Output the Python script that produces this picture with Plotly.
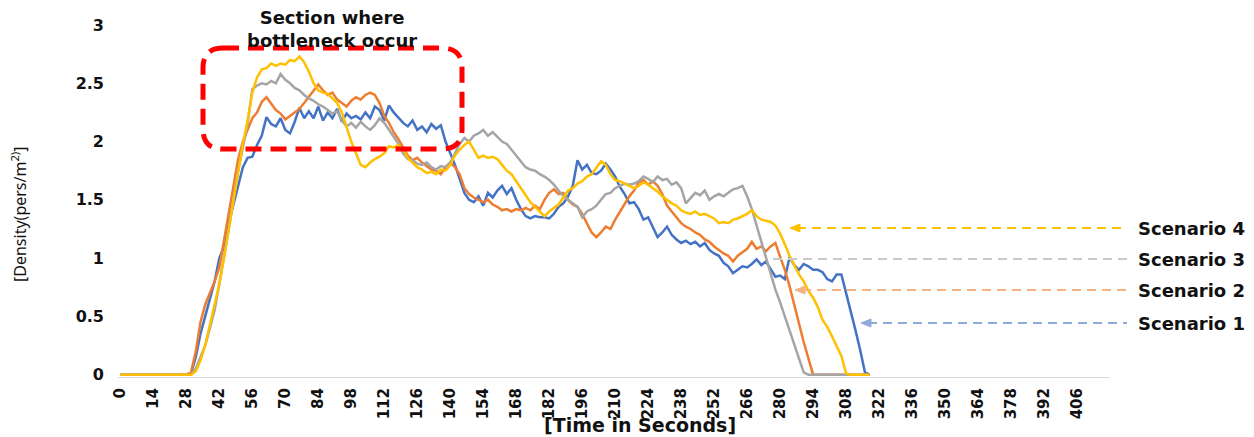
import plotly.graph_objects as go

# ---------------- data ----------------
time_s = list(range(0, 320, 2))  # seconds, one value every 2 s

scenario1 = [
    0, 0, 0, 0, 0, 0, 0, 0, 0, 0,
    0, 0, 0, 0, 0, 0.01, 0.15, 0.35, 0.5, 0.65,
    0.8, 1.0, 1.1, 1.3, 1.45, 1.62, 1.78, 1.86, 1.87, 1.97,
    2.05, 2.21, 2.15, 2.13, 2.2, 2.1, 2.07, 2.17, 2.29, 2.2,
    2.26, 2.2, 2.3, 2.18, 2.25, 2.2, 2.28, 2.17, 2.24, 2.2,
    2.22, 2.19, 2.25, 2.2, 2.3, 2.27, 2.18, 2.31, 2.25, 2.2,
    2.16, 2.13, 2.18, 2.1, 2.13, 2.08, 2.15, 2.11, 2.14, 2.0,
    1.9, 1.8, 1.68, 1.56, 1.5, 1.48, 1.53, 1.45, 1.56, 1.52,
    1.58, 1.62, 1.55, 1.6, 1.5, 1.42, 1.36, 1.34, 1.36, 1.35,
    1.35, 1.34, 1.38, 1.44, 1.47, 1.53, 1.62, 1.84, 1.76, 1.8,
    1.73, 1.72, 1.75, 1.81, 1.76, 1.7, 1.61, 1.55, 1.47, 1.48,
    1.42, 1.33, 1.35, 1.26, 1.18, 1.22, 1.27, 1.2, 1.16, 1.13,
    1.15, 1.12, 1.14, 1.1, 1.13, 1.07, 1.04, 1.02, 0.96, 0.93,
    0.87, 0.9, 0.93, 0.92, 0.95, 0.99, 0.94, 0.97, 0.9, 0.84,
    0.85, 0.82, 1.01, 0.94, 0.9, 0.95, 0.93, 0.9, 0.9, 0.88,
    0.82, 0.8, 0.86, 0.86, 0.7, 0.55, 0.38, 0.21, 0.02, 0,
]

scenario2 = [
    0, 0, 0, 0, 0, 0, 0, 0, 0, 0,
    0, 0, 0, 0, 0, 0.02, 0.2, 0.45, 0.6, 0.7,
    0.8, 0.92, 1.15, 1.4, 1.62, 1.85, 2.0, 2.1, 2.2, 2.25,
    2.34, 2.38, 2.33, 2.27, 2.24, 2.19, 2.22, 2.25, 2.28, 2.33,
    2.38, 2.43, 2.49, 2.44, 2.4, 2.42, 2.36, 2.33, 2.3, 2.35,
    2.38, 2.36, 2.4, 2.42, 2.4, 2.33, 2.22, 2.16, 2.08, 2.02,
    1.95, 1.88, 1.84, 1.86, 1.82, 1.79, 1.76, 1.75, 1.72, 1.78,
    1.82, 1.78, 1.72, 1.6, 1.55, 1.52, 1.5, 1.48, 1.5, 1.46,
    1.44, 1.41, 1.42, 1.4, 1.42, 1.41, 1.43, 1.41, 1.45, 1.42,
    1.5, 1.56, 1.59, 1.55, 1.56, 1.5, 1.46, 1.44, 1.38, 1.3,
    1.22, 1.18, 1.22, 1.27, 1.25, 1.33, 1.4, 1.46, 1.53, 1.58,
    1.65, 1.67, 1.63, 1.66, 1.62, 1.55, 1.45, 1.4, 1.35, 1.3,
    1.27, 1.25, 1.22, 1.2, 1.16, 1.14, 1.1, 1.07, 1.04, 1.02,
    0.97, 1.02, 1.05, 1.08, 1.14, 1.08, 1.1, 1.06, 1.1, 1.13,
    1.01, 0.9, 0.76, 0.6, 0.42, 0.28, 0.14, 0, 0, 0,
    0, 0, 0, 0, 0, 0, 0, 0, 0, 0,
]

scenario3 = [
    0, 0, 0, 0, 0, 0, 0, 0, 0, 0,
    0, 0, 0, 0, 0, 0, 0.05, 0.15, 0.25, 0.4,
    0.55, 0.78, 1.0, 1.25, 1.5, 1.75, 1.95, 2.15, 2.45, 2.48,
    2.5, 2.49, 2.52, 2.5, 2.58, 2.53, 2.5, 2.46, 2.44, 2.4,
    2.37, 2.35, 2.32, 2.3, 2.27, 2.24, 2.26, 2.18, 2.13, 2.16,
    2.12, 2.17, 2.13, 2.1, 2.14, 2.2, 2.16, 2.1, 2.05, 1.98,
    1.9, 1.85, 1.84, 1.81, 1.8, 1.82, 1.78, 1.76, 1.79, 1.78,
    1.82, 1.9, 1.98, 2.03, 2.0, 2.05, 2.07, 2.1, 2.05, 2.08,
    2.04, 2.0, 1.98, 1.93, 1.88, 1.84, 1.78, 1.76, 1.75, 1.72,
    1.7, 1.67, 1.63, 1.58, 1.53, 1.5, 1.47, 1.44, 1.35, 1.4,
    1.42, 1.45, 1.5, 1.55, 1.56, 1.6, 1.62, 1.64, 1.63, 1.64,
    1.66, 1.7, 1.68, 1.65, 1.7, 1.67, 1.68, 1.63, 1.65, 1.6,
    1.47, 1.52, 1.56, 1.54, 1.58, 1.5, 1.53, 1.55, 1.53, 1.56,
    1.59, 1.6, 1.62, 1.53, 1.42, 1.28, 1.14, 1.01, 0.86, 0.73,
    0.62, 0.5, 0.4, 0.27, 0.15, 0.02, 0, 0, 0, 0,
    0, 0, 0, 0, 0, 0, 0, 0, 0, 0,
]

scenario4 = [
    0, 0, 0, 0, 0, 0, 0, 0, 0, 0,
    0, 0, 0, 0, 0, 0, 0.03, 0.12, 0.25, 0.42,
    0.6, 0.78, 1.0, 1.25, 1.5, 1.75, 1.98, 2.18, 2.42, 2.55,
    2.62, 2.63, 2.67, 2.65, 2.67, 2.66, 2.7, 2.69, 2.73, 2.68,
    2.6, 2.5, 2.44, 2.42, 2.41, 2.37, 2.33, 2.25, 2.12, 2.0,
    1.9, 1.8, 1.78, 1.82, 1.85, 1.87, 1.9, 1.96, 1.95, 1.97,
    1.93, 1.86, 1.82, 1.78, 1.76, 1.73, 1.74, 1.72, 1.76, 1.75,
    1.8, 1.88, 1.93, 1.97, 2.0, 1.93, 1.86, 1.88, 1.86, 1.87,
    1.85, 1.8, 1.75, 1.72, 1.66, 1.6, 1.55, 1.48, 1.44, 1.4,
    1.36, 1.4, 1.43, 1.46, 1.52, 1.58, 1.6, 1.64, 1.66, 1.7,
    1.72, 1.77, 1.83, 1.8, 1.72, 1.67, 1.66, 1.64, 1.62, 1.6,
    1.62, 1.65, 1.63, 1.6, 1.57, 1.53, 1.5, 1.47, 1.45, 1.41,
    1.39, 1.38, 1.4, 1.37, 1.38, 1.36, 1.34, 1.3, 1.31, 1.3,
    1.33, 1.34, 1.36, 1.38, 1.41, 1.36, 1.33, 1.32, 1.31, 1.28,
    1.21, 1.12, 1.02, 0.94, 0.86, 0.8, 0.72, 0.66, 0.58, 0.47,
    0.41, 0.33, 0.25, 0.16, 0.01, 0, 0, 0, 0, 0,
]

series_names = ["Scenario 1", "Scenario 2", "Scenario 3", "Scenario 4"]
series_values = [scenario1, scenario2, scenario3, scenario4]
line_colors = ["#4472C4", "#ED7D31", "#A5A5A5", "#FFC000"]
label_colors = ["#8FAADC", "#F4B183", "#C9C9C9", "#FFC000"]

x_tick_vals = list(range(0, 407, 14))
y_tick_vals = [0, 0.5, 1, 1.5, 2, 2.5, 3]
y_tick_text = ["0", "0.5", "1", "1.5", "2", "2.5", "3"]

# ---------------- layout geometry (pixels) ----------------
W, H = 1254, 437
ML, MR, MT, MB = 104, 144, 25, 60
PW, PH = W - ML - MR, H - MT - MB
PLOT_LEFT = 118  # left edge of the plotting area (pixels)


def px(xp):
    return (xp - ML) / PW


def py(yp):
    return (H - MB - yp) / PH


FONT = "DejaVu Sans"

fig = go.Figure()
for name, vals, col in zip(series_names, series_values, line_colors):
    fig.add_trace(go.Scatter(
        x=time_s, y=vals, mode="lines", name=name,
        line=dict(color=col, width=2.5), showlegend=False,
    ))

shapes = []
annotations = []

# red dashed rounded rectangle (bottleneck section)
L, R, T, B, r = 203, 462, 48, 149, 20
x0, x1 = px(L), px(R)
y0, y1 = py(B), py(T)
rx, ry = r / PW, r / PH
path = (
    f"M {x0 + rx},{y1} L {x1 - rx},{y1} Q {x1},{y1} {x1},{y1 - ry} "
    f"L {x1},{y0 + ry} Q {x1},{y0} {x1 - rx},{y0} "
    f"L {x0 + rx},{y0} Q {x0},{y0} {x0},{y0 + ry} "
    f"L {x0},{y1 - ry} Q {x0},{y1} {x0 + rx},{y1} Z"
)
shapes.append(dict(type="path", xref="paper", yref="paper", path=path,
                   line=dict(color="#FF0000", width=5, dash="16px,9px")))

annotations.append(dict(
    x=px(332), y=py(29), xref="paper", yref="paper",
    text="<b>Section where<br>bottleneck occur</b>", showarrow=False,
    font=dict(family=FONT, size=18, color="#111111"),
    xanchor="center", yanchor="middle", align="center",
))

# scenario labels with dashed arrows
label_rows = [  # (tip x px, y px, has arrow head)
    (861, 323, True),
    (795, 290, True),
    (773, 259, False),
    (790, 228, True),
]
for (tip, yy, head), name, col in zip(label_rows, series_names, label_colors):
    start = tip + 7 if head else tip
    shapes.append(dict(type="line", xref="paper", yref="paper",
                       x0=px(start), x1=px(1127), y0=py(yy), y1=py(yy),
                       line=dict(color=col, width=1.8, dash="9px,6px")))
    if head:
        tri = (f"M {px(tip)},{py(yy)} L {px(tip + 10)},{py(yy - 4)} "
               f"L {px(tip + 10)},{py(yy + 4)} Z")
        shapes.append(dict(type="path", xref="paper", yref="paper", path=tri,
                           fillcolor=col, line=dict(color=col, width=1)))
    annotations.append(dict(
        x=px(1136), y=py(yy), xref="paper", yref="paper",
        text=f"<b>{name}</b>", showarrow=False,
        font=dict(family=FONT, size=18, color="#111111"),
        xanchor="left", yanchor="middle",
    ))

# axis titles
annotations.append(dict(
    x=px(640), y=py(425), xref="paper", yref="paper",
    text="<b>[Time in Seconds]</b>", showarrow=False,
    font=dict(family=FONT, size=19, color="#111111"),
    xanchor="center", yanchor="middle",
))
annotations.append(dict(
    x=px(19), y=py(215), xref="paper", yref="paper",
    text="[Density(pers/m<sup>2)</sup>]", showarrow=False, textangle=-90,
    font=dict(family="Noto Sans", size=16, color="#111111"),
    xanchor="center", yanchor="middle",
))

fig.update_layout(
    width=W, height=H,
    margin=dict(l=ML, r=MR, t=MT, b=MB, pad=0, autoexpand=False),
    paper_bgcolor="white", plot_bgcolor="white",
    shapes=shapes, annotations=annotations,
    xaxis=dict(
        domain=[px(PLOT_LEFT), 1],
        range=[-1, 420], tickmode="array", tickvals=x_tick_vals,
        ticktext=[str(v) for v in x_tick_vals], tickangle=-90,
        tickfont=dict(family=FONT, size=15, color="#111111", weight="bold"),
        showgrid=False, zeroline=False, showline=True,
        linecolor="#D9D9D9", linewidth=1,
        ticks="outside", ticklen=4, tickcolor="rgba(255,255,255,0)",
        automargin=False,
    ),
    yaxis=dict(
        anchor="free", position=0,
        range=[-0.02, 3], tickmode="array", tickvals=y_tick_vals,
        ticktext=y_tick_text,
        tickfont=dict(family=FONT, size=16, color="#111111", weight="bold"),
        showgrid=False, zeroline=False, showline=False,
        ticks="", automargin=False,
    ),
)

fig.write_html(
    "out.html",
    config={"displayModeBar": False},
    post_script="document.body.style.margin='0';document.body.style.overflow='hidden';",
)
